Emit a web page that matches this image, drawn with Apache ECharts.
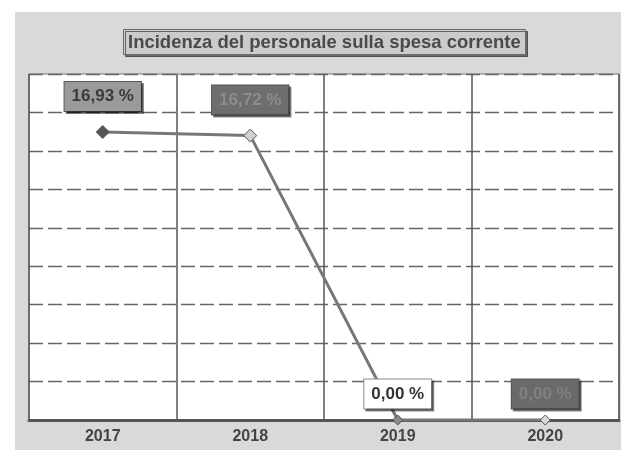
<!DOCTYPE html>
<html>
<head>
<meta charset="utf-8">
<script src="https://cdn.jsdelivr.net/npm/echarts@6/dist/echarts.min.js"></script>
<style>
  html, body { margin: 0; padding: 0; background: #ffffff; }
  #chart { width: 621px; height: 450px; }
</style>
</head>
<body>
<div id="chart"></div>
<script>
// Anni e incidenza della spesa di personale (%)
const years = ['2017', '2018', '2019', '2020'];
const incidenza = [16.93, 16.72, 0, 0];

// Stile di etichetta e marker per ciascun anno
const labelStyles = [
  { backgroundColor: '#9a9a9a', color: '#3a3a3a', borderColor: '#5a5a5a' },
  { backgroundColor: '#6e6e6e', color: '#8c8c8c', borderColor: '#555555' },
  { backgroundColor: '#ffffff', color: '#333333', borderColor: '#8a8a8a' },
  { backgroundColor: '#6a6a6a', color: '#808080', borderColor: '#555555' }
];
const markerFill = ['#555555', '#d0d0d0', '#8a8a8a', '#d8d8d8'];
const markerSize = [13, 13, 10, 10];
const labelGap = [14, 14, 6, 6];

const fmt = v => v.toFixed(2).replace('.', ',') + ' %';

const chart = echarts.init(document.getElementById('chart'), null, { renderer: 'canvas' });

const seriesData = incidenza.map((v, i) => ({
  value: v,
  symbolSize: markerSize[i],
  itemStyle: { color: markerFill[i], borderColor: '#555555', borderWidth: 1 },
  label: {
    show: true,
    position: 'top',
    distance: labelGap[i],
    formatter: p => fmt(p.value),
    fontFamily: 'Liberation Sans, Arial, sans-serif',
    fontWeight: 'bold',
    fontSize: 17,
    padding: [6, 7, 6, 7],
    borderWidth: 1,
    shadowColor: 'rgba(0,0,0,0.45)',
    shadowOffsetX: 2,
    shadowOffsetY: 2,
    ...labelStyles[i]
  }
}));

chart.setOption({
  animation: false,
  backgroundColor: '#ffffff',
  graphic: [
    {
      type: 'rect',
      z: -10,
      shape: { x: 15, y: 12, width: 606, height: 438 },
      style: { fill: '#d9d9d9' }
    }
  ],
  title: {
    text: 'Incidenza del personale sulla spesa corrente',
    left: 123,
    top: 29,
    backgroundColor: '#cbcbcb',
    borderColor: '#6a6a6a',
    borderWidth: 1,
    padding: [4, 5, 3, 5],
    shadowColor: 'rgba(0,0,0,0.5)',
    shadowOffsetX: 2,
    shadowOffsetY: 2,
    textStyle: {
      fontFamily: 'Liberation Sans, Arial, sans-serif',
      fontWeight: 'bold',
      fontSize: 18.5,
      color: '#4a4a4a'
    }
  },
  grid: {
    left: 29,
    right: 2,
    top: 74,
    bottom: 30,
    show: true,
    backgroundColor: '#ffffff',
    borderColor: '#777777',
    borderWidth: 1
  },
  xAxis: {
    type: 'category',
    data: years,
    boundaryGap: true,
    axisLine: { show: true, lineStyle: { color: '#555555', width: 3 } },
    axisTick: { show: false },
    axisLabel: {
      margin: 9,
      fontFamily: 'Liberation Sans, Arial, sans-serif',
      fontWeight: 'bold',
      fontSize: 16,
      color: '#444444'
    },
    splitLine: { show: true, lineStyle: { color: '#555555', width: 1.5 } }
  },
  yAxis: {
    type: 'value',
    min: 0,
    max: 20.34,
    interval: 2.26,
    axisLine: { show: false },
    axisTick: { show: false },
    axisLabel: { show: false },
    splitLine: { show: true, lineStyle: { color: '#666666', width: 1.3, type: [14, 5] } }
  },
  series: [
    {
      type: 'line',
      data: seriesData,
      symbol: 'diamond',
      lineStyle: { color: '#777777', width: 3 },
      z: 5
    }
  ]
});
</script>
</body>
</html>
